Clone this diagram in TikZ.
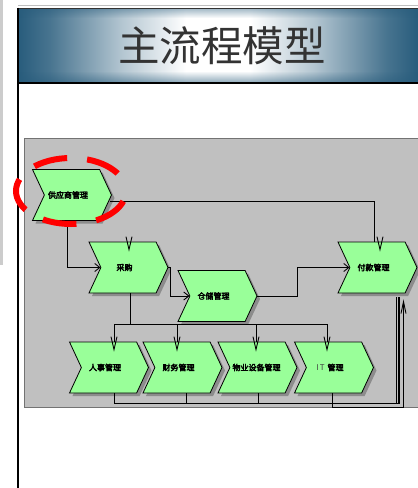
\documentclass[tikz,border=0pt]{standalone}
\usepackage{fontspec}
\newfontfamily\cjk{Noto Sans CJK SC}
\newfontfamily\cjkb[FakeBold=3.5]{Noto Sans CJK SC}
\usetikzlibrary{shapes.symbols,shadows,arrows.meta,calc}
\definecolor{band}{RGB}{40,92,124}
\definecolor{fngreen}{RGB}{153,255,153}
\definecolor{panel}{RGB}{192,192,192}
\definecolor{shadowc}{RGB}{140,140,140}
\definecolor{titletext}{RGB}{51,51,51}
\pgfdeclarehorizontalshading{bandh}{100bp}{color(0bp)=(band); color(25bp)=(band); color(29bp)=(band!85!white); color(38bp)=(band!35!white); color(46bp)=(white); color(54bp)=(white); color(62bp)=(band!35!white); color(71bp)=(band!85!white); color(75bp)=(band); color(100bp)=(band)}
\begin{document}
\begin{tikzpicture}[x=1pt,y=-1pt,
  fnshift/.initial=8pt,
  fn/.style={shape=signal, signal to=east, signal from=west, signal pointer angle=130,
    draw=black, line width=0.8pt, fill=fngreen, minimum width=79pt, minimum height=51pt,
    inner sep=0pt, font=\cjkb\fontsize{8}{9}\selectfont,
    execute at end node={\hspace*{\pgfkeysvalueof{/tikz/fnshift}}},
    drop shadow={shadow xshift=3pt, shadow yshift=-3pt, fill=shadowc, opacity=1}},
  conn/.style={draw=black, line width=0.9pt},
  arr/.style={-{Straight Barb[length=5pt,width=8pt]}},
  vmark/.style={draw=black, line width=0.9pt},
  pics/vm/.style={code={\draw[vmark] (-3,-5) -- (0,8) -- (3,-5);}}]
\useasboundingbox (0,0) rectangle (418,488);
\fill[white] (0,0) rectangle (418,488);
\fill[black!20] (0,0) rectangle (3,265);
\draw[black!25, line width=1pt] (18,5.5) -- (418,5.5);
% title band
\shade[shading=bandh] (18,8) rectangle (418,82);
\foreach \i in {0,...,9} {
  \fill[band, opacity={0.45*(1-\i/10)}] (18,8+\i) rectangle (418,9+\i);
  \fill[band, opacity={0.45*(1-\i/10)}] (18,81-\i) rectangle (418,82-\i);
}
\draw[black!80, line width=0.8pt] (18,8) -- (418,8);
\draw[black, line width=2pt] (18,82.5) -- (418,82.5);
\draw[black, line width=2pt] (18,7.5) -- (18,488);
\node[font=\cjk\fontsize{41.5}{42}\selectfont, text=titletext, inner sep=0pt] (title) at (222,46) {主流程模型};
% panel
\draw[fill=panel, draw=black!55, line width=0.6pt] (24,138.5) rectangle (425,407);
% function nodes
\node[fn] (gy) at (72,195) {供应商管理};
\node[fn] (cg) at (128.5,267.5) {采购};
\node[fn] (cc) at (217.5,296) {仓储管理};
\node[fn] (fk) at (377.5,267.5) {付款管理};
\node[fn] (rs) at (109,367.5) {人事管理};
\node[fn] (cw) at (182.5,367.5) {财务管理};
\node[fn, fnshift=2pt] (wy) at (257.5,367.5) {物业设备管理};
\node[fn] (it) at (334,367.5) {{\cjk\color{black!75}I\kern1pt T}\hspace{3pt}管理};
% connectors
\draw[conn,arr] ([xshift=-5pt]gy.south) |- (cg.180);
\draw[conn,arr] (cg.0) -- ++(2,0) |- (cc.180);
\draw[conn,arr] (cc.0) -- ++(40,0) |- (fk.180);
\draw[conn] ($(gy.0)+(-2,6)$) -| ([xshift=-3.5pt]fk.north);
\coordinate (hub) at (130,324);
\draw[conn] ([xshift=1.5pt]cg.south) -- (hub);
\draw[conn] (hub) -| ([xshift=5pt]rs.north);
\draw[conn] (hub) -| ([xshift=-5.5pt]cw.north);
\draw[conn] (hub) -| ([xshift=-1.5pt]wy.north);
\draw[conn] (hub) -| ([xshift=-7pt]it.north);
\draw[conn] ([xshift=5pt]rs.south) -- ++(0,10) -| ([xshift=19pt,yshift=-4pt]fk.south);
\draw[conn] ([xshift=3.5pt]cw.south) -- ++(0,10) -| ([xshift=20.5pt,yshift=-4pt]fk.south);
\draw[conn] ([xshift=0.5pt]wy.south) -- ++(0,10) -| ([xshift=21.5pt,yshift=-4pt]fk.south);
\draw[conn,-{Straight Barb[length=12pt,width=5pt]}] ([xshift=-2pt]it.south) -- ++(0,14) -| ([xshift=26pt,yshift=-6pt]fk.south);
% input markers
\pic at ([xshift=0.5pt]cg.north) {vm};
\pic at ([xshift=2.5pt]fk.north) {vm};
\pic at ([xshift=5pt]rs.north) {vm};
\pic at ([xshift=-5.5pt]cw.north) {vm};
\pic at ([xshift=-1.5pt]wy.north) {vm};
\pic at ([xshift=-7pt]it.north) {vm};
% red highlight
\draw[red, line width=6pt, dash pattern=on 34pt off 20pt, dash phase=34pt] (71,191) ellipse [x radius=55pt, y radius=33pt];
\end{tikzpicture}
\end{document}
